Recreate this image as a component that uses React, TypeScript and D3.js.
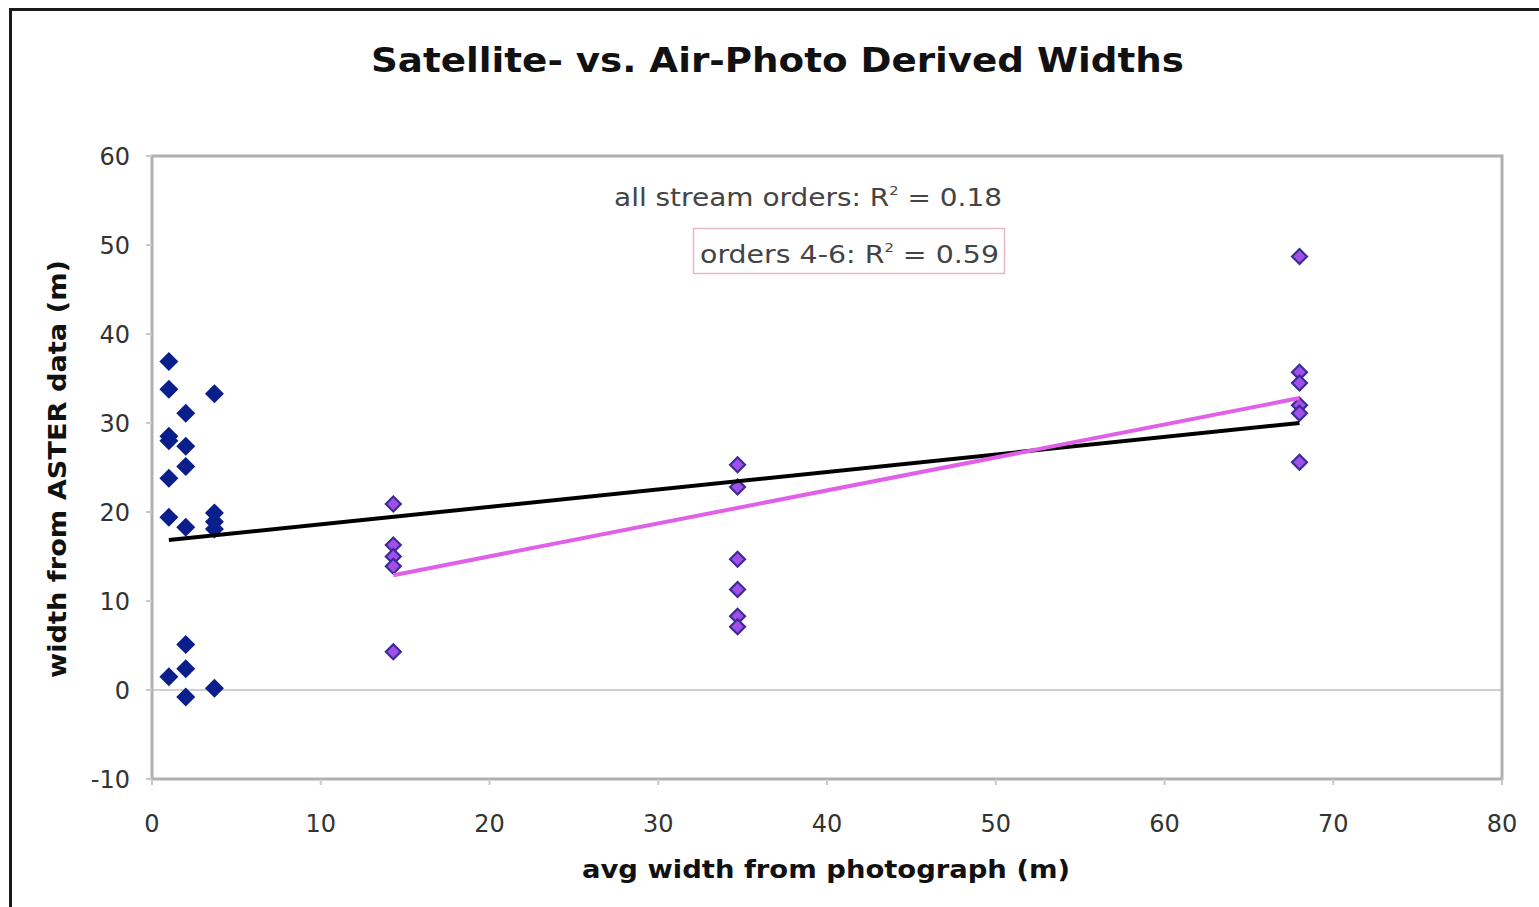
import React from "react";
import * as d3 from "d3";

const orders13X = [1, 1, 3.7, 2, 1, 1, 2, 2, 1, 1, 3.7, 2, 3.7, 3.7, 2, 2, 1, 3.7, 2];
const orders13Y = [36.9, 33.8, 33.3, 31.1, 28.5, 28.0, 27.4, 25.1, 23.8, 19.4, 19.9, 18.3, 18.9, 18.1, 5.1, 2.4, 1.5, 0.2, -0.8];

const orders46X = [14.3, 14.3, 14.3, 14.3, 14.3, 34.7, 34.7, 34.7, 34.7, 34.7, 34.7, 68, 68, 68, 68, 68, 68];
const orders46Y = [20.9, 16.3, 15.0, 13.9, 4.3, 25.3, 22.8, 14.7, 11.3, 8.3, 7.1, 48.7, 35.7, 34.5, 32.0, 31.1, 25.6];

const trendAllX = [1, 68];
const trendAllY = [16.85, 30.0];
const trend46X = [14.3, 68];
const trend46Y = [12.9, 32.8];

const xTicks = [0, 10, 20, 30, 40, 50, 60, 70, 80];
const yTicks = [-10, 0, 10, 20, 30, 40, 50, 60];

const FONT = "'DejaVu Sans', Verdana, sans-serif";

export default function App() {
  const left = 152, right = 1502, top = 156, bottom = 779;
  const x = d3.scaleLinear().domain([0, 80]).range([left, right]);
  const y = d3.scaleLinear().domain([-10, 60]).range([bottom, top]);

  const allLine = d3.line<number>().x((_, i) => x(trendAllX[i])).y((d) => y(d))(trendAllY) || "";
  const l46 = d3.line<number>().x((_, i) => x(trend46X[i])).y((d) => y(d))(trend46Y) || "";

  const diamond = (cx: number, cy: number, r: number) =>
    `M${cx},${cy - r}L${cx + r},${cy}L${cx},${cy + r}L${cx - r},${cy}Z`;

  return (
    <svg
      width={1539}
      height={907}
      style={{ position: "absolute", left: 0, top: 0, background: "#fff" }}
    >
      <rect x={0} y={0} width={1539} height={907} fill="#fff" />
      <rect x={10.5} y={9.5} width={1600} height={1000} fill="none" stroke="#1a1a1a" strokeWidth={3} />

      <text x={371} y={72} textLength={813} lengthAdjust="spacingAndGlyphs" fontFamily={FONT} fontWeight="bold" fontSize={34} fill="#111">
        Satellite- vs. Air-Photo Derived Widths
      </text>

      {/* zero line */}
      <line x1={left} x2={right} y1={y(0)} y2={y(0)} stroke="#d0d0d0" strokeWidth={2} />

      {/* plot frame */}
      <rect x={left} y={top} width={right - left} height={bottom - top} fill="none" stroke="#b0b0b0" strokeWidth={3} />

      {/* y ticks */}
      {yTicks.map((t) => (
        <g key={"y" + t}>
          <line x1={left - 6} x2={left} y1={y(t)} y2={y(t)} stroke="#c8c8c8" strokeWidth={2} />
          <text x={130} y={y(t) + 9} textAnchor="end" fontFamily={FONT} fontSize={24} fill="#333">
            {t}
          </text>
        </g>
      ))}
      {/* x ticks */}
      {xTicks.map((t) => (
        <g key={"x" + t}>
          <line x1={x(t)} x2={x(t)} y1={bottom} y2={bottom + 6} stroke="#c8c8c8" strokeWidth={2} />
          <text x={x(t)} y={832} textAnchor="middle" fontFamily={FONT} fontSize={24} fill="#333">
            {t}
          </text>
        </g>
      ))}

      <text x={582} y={878} textLength={488} lengthAdjust="spacingAndGlyphs" fontFamily={FONT} fontWeight="bold" fontSize={24} fill="#111">
        avg width from photograph (m)
      </text>
      <text
        transform={`translate(66,678) rotate(-90)`}
        textLength={418}
        lengthAdjust="spacingAndGlyphs"
        fontFamily={FONT}
        fontWeight="bold"
        fontSize={24}
        fill="#111"
      >
        width from ASTER data (m)
      </text>

      {/* points orders 1-3 */}
      {orders13X.map((d, i) => (
        <path key={"b" + i} d={diamond(x(d), y(orders13Y[i]), 9.5)} fill="#0b1f8c" />
      ))}
      {/* points orders 4-6 */}
      {orders46X.map((d, i) => (
        <g key={"p" + i}>
          <path d={diamond(x(d), y(orders46Y[i]), 9)} fill="#3a2a9a" />
          <path d={diamond(x(d), y(orders46Y[i]), 6)} fill="#a050e6" />
        </g>
      ))}

      {/* trend lines */}
      <path d={allLine} stroke="#000" strokeWidth={4} fill="none" />
      <path d={l46} stroke="#e060e8" strokeWidth={4} fill="none" />

      {/* annotations */}
      <text x={614} y={206} textLength={388} lengthAdjust="spacingAndGlyphs" fontFamily={FONT} fontSize={25} fill="#444">
        all stream orders: R<tspan dy={-11} fontSize={13}>2</tspan><tspan dy={11}> = 0.18</tspan>
      </text>
      <rect x={693.5} y={228.5} width={311} height={45} fill="#fff" stroke="#e8b8c8" strokeWidth={1.5} />
      <text x={700} y={263} textLength={299} lengthAdjust="spacingAndGlyphs" fontFamily={FONT} fontSize={25} fill="#444">
        orders 4-6: R<tspan dy={-11} fontSize={13}>2</tspan><tspan dy={11}> = 0.59</tspan>
      </text>
    </svg>
  );
}
